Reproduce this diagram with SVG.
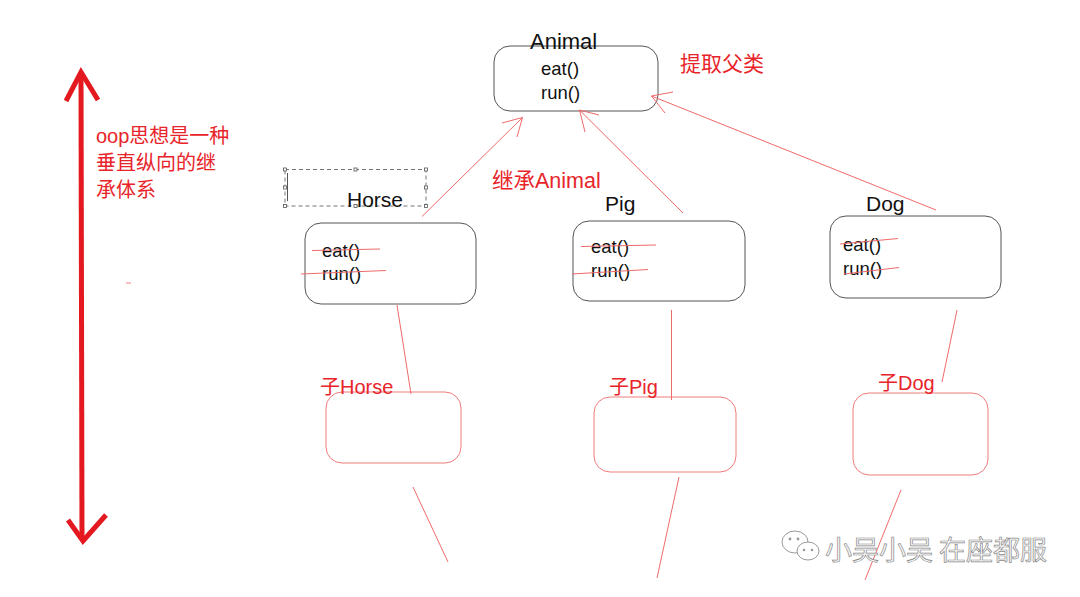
<svg xmlns="http://www.w3.org/2000/svg" width="1080" height="597" viewBox="0 0 1080 597">
<style>
.box{fill:#fff;stroke:#555;stroke-width:1}
.cbox{fill:#fff;stroke:#f07a7a;stroke-width:1}
.t{font-family:"Liberation Sans",Arial,sans-serif;font-size:18.5px;fill:#111}
.tl{font-family:"Liberation Sans",Arial,sans-serif;font-size:21px;fill:#111}
.r{font-family:"Liberation Sans","Noto Sans CJK SC",sans-serif;font-size:20px;fill:#e8242a}
.ln{stroke:#f06a6a;stroke-width:1;fill:none}
.big{stroke:#e3191f;stroke-width:5;fill:none;stroke-linecap:butt}
.wm{font-family:"Noto Sans CJK SC",sans-serif;font-size:27px;fill:#fafafa;stroke:#8a8a8a;stroke-width:0.7}
.h{fill:#fff;stroke:#555;stroke-width:0.8}
</style>
<rect width="1080" height="597" fill="#fff"/>

<g id="axis">
<line class="big" x1="81" y1="74" x2="82" y2="540"/>
<polyline class="big" points="66,101 81,72 98,100"/>
<polyline class="big" points="68,520 83,541 106,515"/>
<text class="r" x="96" y="143">oop思想是一种</text>
<text class="r" x="96" y="170">垂直纵向的继</text>
<text class="r" x="96" y="197">承体系</text>
<line x1="126" y1="283" x2="131" y2="283" stroke="#f08080" stroke-width="1"/>
</g>

<g id="animal">
<rect class="box" x="494" y="46" width="164" height="65" rx="16"/>
<text class="tl" x="530" y="49" style="font-size:22px">Animal</text>
<text class="t" x="541" y="75">eat()</text>
<text class="t" x="541" y="99">run()</text>
</g>
<text class="r" x="680" y="71" style="font-size:21px">提取父类</text>
<text class="r" x="492" y="188" style="font-size:21.5px">继承Animal</text>

<g id="horse">
<rect x="285" y="169.5" width="141" height="36.5" fill="none" stroke="#666" stroke-width="0.9" stroke-dasharray="4,3"/>
<line x1="287.5" y1="173" x2="287.5" y2="201" stroke="#555" stroke-width="1"/>
<rect class="h" x="283.5" y="168" width="3" height="3"/><rect class="h" x="354" y="168" width="3" height="3"/><rect class="h" x="424.5" y="168" width="3" height="3"/>
<rect class="h" x="283.5" y="186" width="3" height="3"/><rect class="h" x="424.5" y="186" width="3" height="3"/>
<rect class="h" x="283.5" y="204.5" width="3" height="3"/><rect class="h" x="354" y="204.5" width="3" height="3"/><rect class="h" x="424.5" y="204.5" width="3" height="3"/>
<text class="tl" x="347" y="207">Horse</text>
<rect class="box" x="305" y="223" width="171" height="81" rx="16"/>
<text class="t" x="322" y="257">eat()</text>
<text class="t" x="322" y="280">run()</text>
<line class="ln" x1="312" y1="250.5" x2="380" y2="249"/>
<line class="ln" x1="301" y1="274" x2="386" y2="270.5"/>
</g>

<g id="pig">
<text class="tl" x="605" y="211">Pig</text>
<rect class="box" x="573" y="221" width="172" height="80" rx="16"/>
<text class="t" x="591" y="253">eat()</text>
<text class="t" x="591" y="277">run()</text>
<line class="ln" x1="581" y1="246.5" x2="656" y2="245"/>
<line class="ln" x1="572" y1="274" x2="648" y2="269.5"/>
</g>

<g id="dog">
<text class="tl" x="866" y="211">Dog</text>
<rect class="box" x="830" y="216" width="171" height="82" rx="16"/>
<text class="t" x="843" y="251">eat()</text>
<text class="t" x="843" y="275">run()</text>
<line class="ln" x1="840" y1="244" x2="898" y2="238.5"/>
<line class="ln" x1="844" y1="274" x2="899" y2="267.5"/>
</g>

<g id="subHorse">
<rect class="cbox" x="326" y="392" width="135" height="71" rx="16"/>
<text class="r" x="320" y="394">子Horse</text>
</g>
<g id="subPig">
<rect class="cbox" x="594" y="397" width="142" height="75" rx="16"/>
<text class="r" x="609" y="394">子Pig</text>
</g>
<g id="subDog">
<rect class="cbox" x="853" y="393" width="135" height="82" rx="16"/>
<text class="r" x="878" y="390">子Dog</text>
</g>

<g id="connectors">
<line class="ln" x1="422" y1="216.5" x2="522.5" y2="117.5"/>
<polyline class="ln" points="502,123 522.5,117.5 517,137"/>
<line class="ln" x1="683" y1="213" x2="579.5" y2="110"/>
<polyline class="ln" points="599,115 579.5,110 585,132"/>
<line class="ln" x1="936" y1="210" x2="651.5" y2="96"/>
<polyline class="ln" points="673,92 651.5,96 665,113"/>
<line class="ln" x1="397" y1="305" x2="411" y2="394"/>
<line class="ln" x1="671.5" y1="310" x2="671.5" y2="400"/>
<line class="ln" x1="957" y1="310" x2="942" y2="382"/>
<line class="ln" x1="413" y1="487" x2="448" y2="562"/>
<line class="ln" x1="679" y1="477" x2="657" y2="578"/>
<line class="ln" x1="901" y1="490" x2="865" y2="580"/>
</g>

<g id="watermark">
<ellipse cx="795" cy="542" rx="13" ry="11" fill="#fff" stroke="#999" stroke-width="1"/>
<ellipse cx="808" cy="551" rx="11" ry="9" fill="#fff" stroke="#999" stroke-width="1"/>
<circle cx="790" cy="539" r="1.4" fill="#999"/><circle cx="798" cy="539" r="1.4" fill="#999"/>
<circle cx="804" cy="550" r="1.3" fill="#999"/><circle cx="812" cy="550" r="1.3" fill="#999"/>
<text class="wm" x="825" y="560">小吴小吴 在座都服</text>
</g>
</svg>
